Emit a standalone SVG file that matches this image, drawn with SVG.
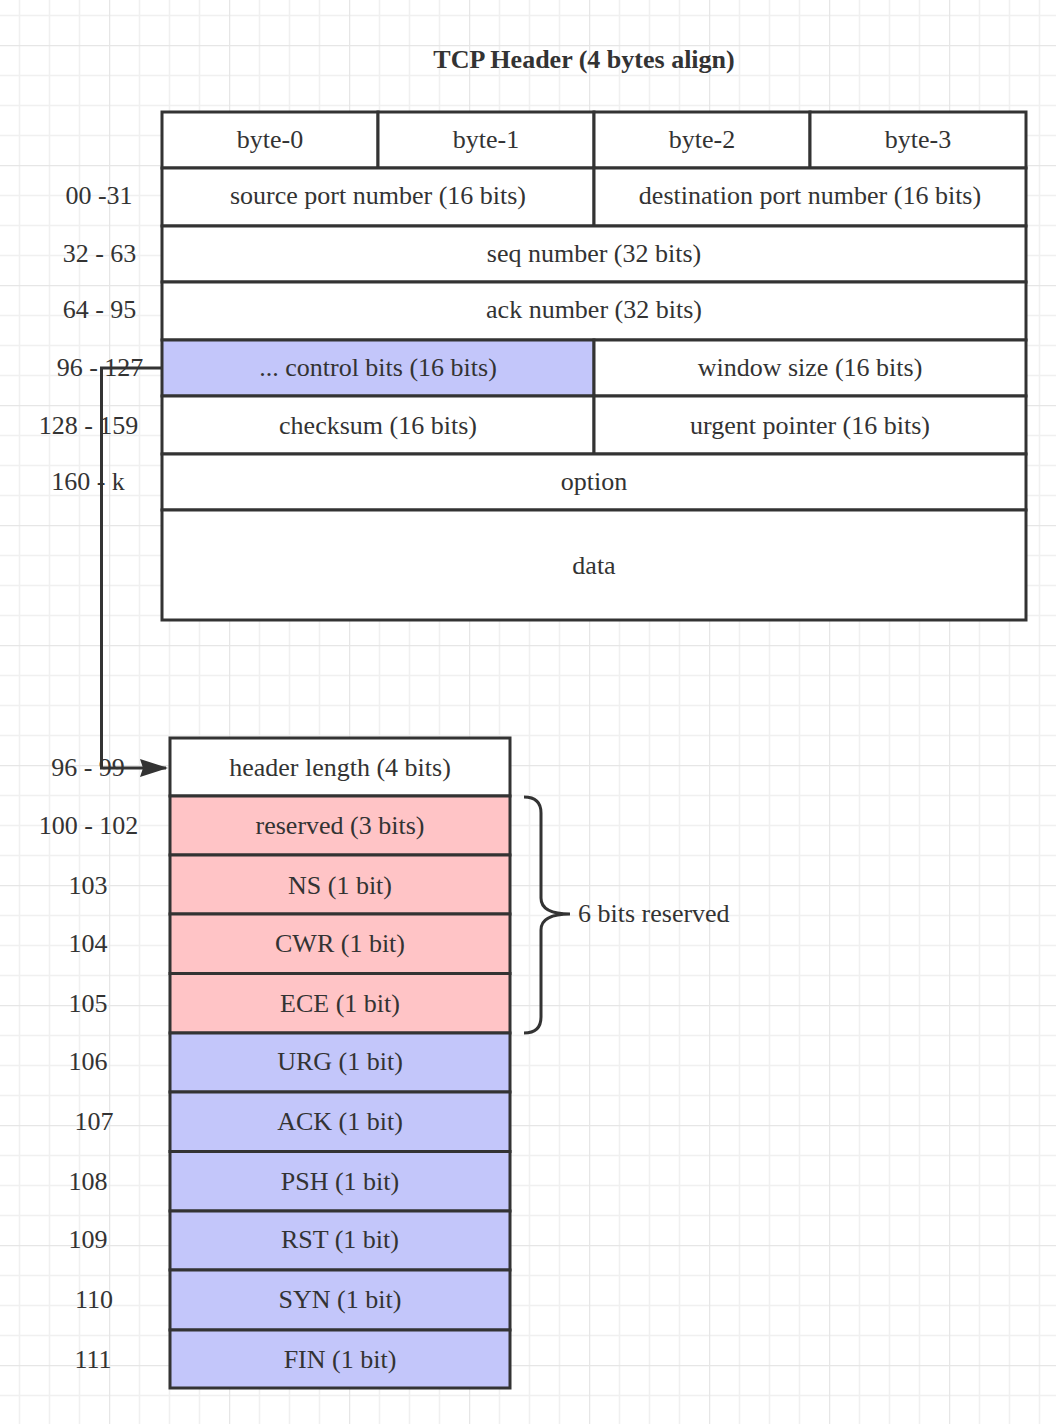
<svg xmlns="http://www.w3.org/2000/svg" width="1056" height="1424" viewBox="0 0 1056 1424">
<style>
.cell{stroke:#333333;stroke-width:3;}
.w{fill:#ffffff;}
.b{fill:#c3c6fa;}
.p{fill:#ffc4c6;}
.t{font-family:"Liberation Serif","Times New Roman",serif;font-size:26px;fill:#333333;text-anchor:middle;}
.l{text-anchor:start;}
.title{font-weight:bold;}
.conn{fill:none;stroke:#333333;stroke-width:3;}
</style>
<defs>
<pattern id="grid" patternUnits="userSpaceOnUse" x="109" y="45" width="120" height="120">
<path d="M30.5 0V120M60.5 0V120M90.5 0V120M0 30.5H120M0 60.5H120M0 90.5H120" stroke="#f0f0f0" stroke-width="1.5" fill="none"/>
<path d="M0.5 0V120M0 0.5H120" stroke="#e6e6e6" stroke-width="1.5" fill="none"/>
</pattern>
<marker id="arr" viewBox="0 0 28 18" refX="26" refY="9" markerWidth="28" markerHeight="18" markerUnits="userSpaceOnUse" orient="auto" overflow="visible">
<path d="M0 0L28 9L0 18L3 9Z" fill="#333333"/>
</marker>
</defs>
<rect width="1056" height="1424" fill="#ffffff"/>
<rect width="1056" height="1424" fill="url(#grid)"/>

<text id="title" class="t title" x="584" y="68">TCP Header (4 bytes align)</text>

<g id="header-table">
<g id="byte0"><rect class="cell w" x="162" y="112" width="216" height="56"/><text class="t" x="270" y="148">byte-0</text></g>
<g id="byte1"><rect class="cell w" x="378" y="112" width="216" height="56"/><text class="t" x="486" y="148">byte-1</text></g>
<g id="byte2"><rect class="cell w" x="594" y="112" width="216" height="56"/><text class="t" x="702" y="148">byte-2</text></g>
<g id="byte3"><rect class="cell w" x="810" y="112" width="216" height="56"/><text class="t" x="918" y="148">byte-3</text></g>
<g id="srcport"><rect class="cell w" x="162" y="168" width="432" height="58"/><text class="t" x="378" y="204">source port number (16 bits)</text></g>
<g id="dstport"><rect class="cell w" x="594" y="168" width="432" height="58"/><text class="t" x="810" y="204">destination port number (16 bits)</text></g>
<g id="seq"><rect class="cell w" x="162" y="226" width="864" height="56"/><text class="t" x="594" y="262">seq number (32 bits)</text></g>
<g id="ack"><rect class="cell w" x="162" y="282" width="864" height="58"/><text class="t" x="594" y="318">ack number (32 bits)</text></g>
<g id="ctrl"><rect class="cell b" x="162" y="340" width="432" height="56"/><text class="t" x="378" y="376">... control bits (16 bits)</text></g>
<g id="window"><rect class="cell w" x="594" y="340" width="432" height="56"/><text class="t" x="810" y="376">window size (16 bits)</text></g>
<g id="checksum"><rect class="cell w" x="162" y="396" width="432" height="58"/><text class="t" x="378" y="434">checksum (16 bits)</text></g>
<g id="urgent"><rect class="cell w" x="594" y="396" width="432" height="58"/><text class="t" x="810" y="434">urgent pointer (16 bits)</text></g>
<g id="option"><rect class="cell w" x="162" y="454" width="864" height="56"/><text class="t" x="594" y="490">option</text></g>
<g id="data"><rect class="cell w" x="162" y="510" width="864" height="110"/><text class="t" x="594" y="574">data</text></g>
</g>

<g id="offset-labels">
<text class="t" x="99" y="204">00 -31</text>
<text class="t" x="99.5" y="262">32 - 63</text>
<text class="t" x="99.5" y="318">64 - 95</text>
<text class="t" x="100" y="376">96 - 127</text>
<text class="t" x="88.5" y="434">128 - 159</text>
<text class="t" x="88" y="490">160 - k</text>
<text class="t" x="88" y="776">96 - 99</text>
<text class="t" x="88.5" y="834">100 - 102</text>
<text class="t" x="88" y="894">103</text>
<text class="t" x="88" y="952">104</text>
<text class="t" x="88" y="1012">105</text>
<text class="t" x="88" y="1070">106</text>
<text class="t" x="94" y="1130">107</text>
<text class="t" x="88" y="1190">108</text>
<text class="t" x="88" y="1248">109</text>
<text class="t" x="94" y="1308">110</text>
<text class="t" x="93" y="1368">111</text>
</g>

<g id="control-bits-table">
<g id="hlen"><rect class="cell w" x="170" y="738" width="340" height="58"/><text class="t" x="340" y="776">header length (4 bits)</text></g>
<g id="reserved"><rect class="cell p" x="170" y="796" width="340" height="59"/><text class="t" x="340" y="834">reserved (3 bits)</text></g>
<g id="ns"><rect class="cell p" x="170" y="855" width="340" height="59"/><text class="t" x="340" y="894">NS (1 bit)</text></g>
<g id="cwr"><rect class="cell p" x="170" y="914" width="340" height="59.5"/><text class="t" x="340" y="952">CWR (1 bit)</text></g>
<g id="ece"><rect class="cell p" x="170" y="973.5" width="340" height="59.5"/><text class="t" x="340" y="1012">ECE (1 bit)</text></g>
<g id="urg"><rect class="cell b" x="170" y="1033" width="340" height="59"/><text class="t" x="340" y="1070">URG (1 bit)</text></g>
<g id="ackbit"><rect class="cell b" x="170" y="1092" width="340" height="59.5"/><text class="t" x="340" y="1130">ACK (1 bit)</text></g>
<g id="psh"><rect class="cell b" x="170" y="1151.5" width="340" height="59.5"/><text class="t" x="340" y="1190">PSH (1 bit)</text></g>
<g id="rst"><rect class="cell b" x="170" y="1211" width="340" height="59"/><text class="t" x="340" y="1248">RST (1 bit)</text></g>
<g id="syn"><rect class="cell b" x="170" y="1270" width="340" height="60"/><text class="t" x="340" y="1308">SYN (1 bit)</text></g>
<g id="fin"><rect class="cell b" x="170" y="1330" width="340" height="58"/><text class="t" x="340" y="1368">FIN (1 bit)</text></g>
</g>

<g id="brace-note">
<path class="conn" d="M524 797Q541 797 541 813L541 898Q541 914 570 914Q541 914 541 930L541 1017Q541 1033 524 1033"/>
<text class="t l" x="578" y="922">6 bits reserved</text>
</g>

<g id="connectors">
<path class="conn" d="M162 368H101.5V768H166" marker-end="url(#arr)"/>
</g>
</svg>
